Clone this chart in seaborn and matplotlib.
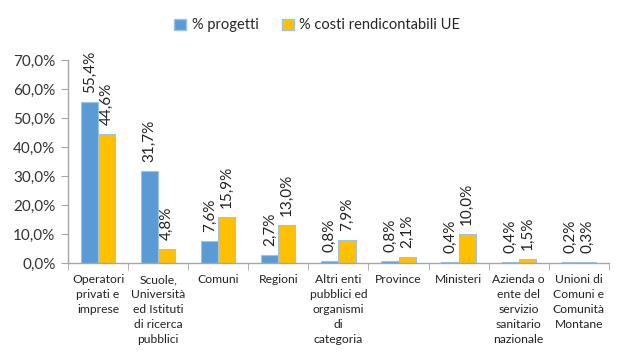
import matplotlib
matplotlib.use("Agg")
import matplotlib.pyplot as plt
import seaborn as sns
import pandas as pd
from matplotlib.ticker import FuncFormatter, FixedLocator
from matplotlib.patches import Patch

categories = [
    "Operatori\nprivati e\nimprese",
    "Scuole,\nUniversità\ned Istituti\ndi ricerca\npubblici",
    "Comuni",
    "Regioni",
    "Altri enti\npubblici ed\norganismi\ndi\ncategoria",
    "Province",
    "Ministeri",
    "Azienda o\nente del\nservizio\nsanitario\nnazionale",
    "Unioni di\nComuni e\nComunità\nMontane",
]
progetti = [55.4, 31.7, 7.6, 2.7, 0.8, 0.8, 0.4, 0.4, 0.2]
costi = [44.6, 4.8, 15.9, 13.0, 7.9, 2.1, 10.0, 1.5, 0.3]
series = ["% progetti", "% costi rendicontabili UE"]
yticks = [0, 10, 20, 30, 40, 50, 60, 70]

df = pd.DataFrame({
    "cat": categories * 2,
    "serie": [series[0]] * len(categories) + [series[1]] * len(categories),
    "val": progetti + costi,
})

sns.set_style("white")
plt.rcParams["font.family"] = ["Lato", "DejaVu Sans"]

fig = plt.figure(figsize=(6.27, 3.63), dpi=100)
ax = fig.add_axes([0.1085, 0.2755, 0.8625, 0.5595])

palette = {series[0]: "#5B9BD5", series[1]: "#FFC000"}
sns.barplot(data=df, x="cat", y="val", hue="serie", order=categories,
            hue_order=series, palette=palette, width=0.57, ax=ax,
            edgecolor="#9DC3E6", linewidth=0.8, legend=False, saturation=1)

for cont in ax.containers:
    labels = [f"{v:.1f}%".replace(".", ",") for v in cont.datavalues]
    ax.bar_label(cont, labels=labels, rotation=90, padding=6.5, fontsize=11,
                 color="#222222", clip_on=False)

ax.set_ylim(0, 70)
ax.set_xlim(-0.5, len(categories) - 0.5)
ax.yaxis.set_major_locator(FixedLocator(yticks))
ax.yaxis.set_major_formatter(FuncFormatter(lambda v, p: f"{v:.1f}%".replace(".", ",")))
ax.set_xlabel("")
ax.set_ylabel("")

for s in ["top", "right"]:
    ax.spines[s].set_visible(False)
for s in ["left", "bottom"]:
    ax.spines[s].set_color("#A6A6A6")
    ax.spines[s].set_linewidth(1)

ax.tick_params(axis="y", which="major", left=True, length=5, color="#A6A6A6",
               labelsize=11, labelcolor="#333333", pad=4)
ax.tick_params(axis="x", which="major", length=0, labelsize=8.7,
               labelcolor="#222222", pad=8)
ax.set_xticks([i + 0.5 for i in range(-1, len(categories))], minor=True)
ax.tick_params(axis="x", which="minor", bottom=True, length=5, color="#A6A6A6")
for lab in ax.get_xticklabels():
    lab.set_linespacing(1.45)
    lab.set_verticalalignment("top")

handles = [Patch(facecolor=palette[s], edgecolor="#9DC3E6", label=s) for s in series]
fig.legend(handles=handles, loc="center", bbox_to_anchor=(0.506, 0.93), ncol=2,
           frameon=False, fontsize=10.5, handlelength=0.8, handleheight=0.8,
           handletextpad=0.4, columnspacing=1.6)

fig.savefig("out.png", dpi=100)
